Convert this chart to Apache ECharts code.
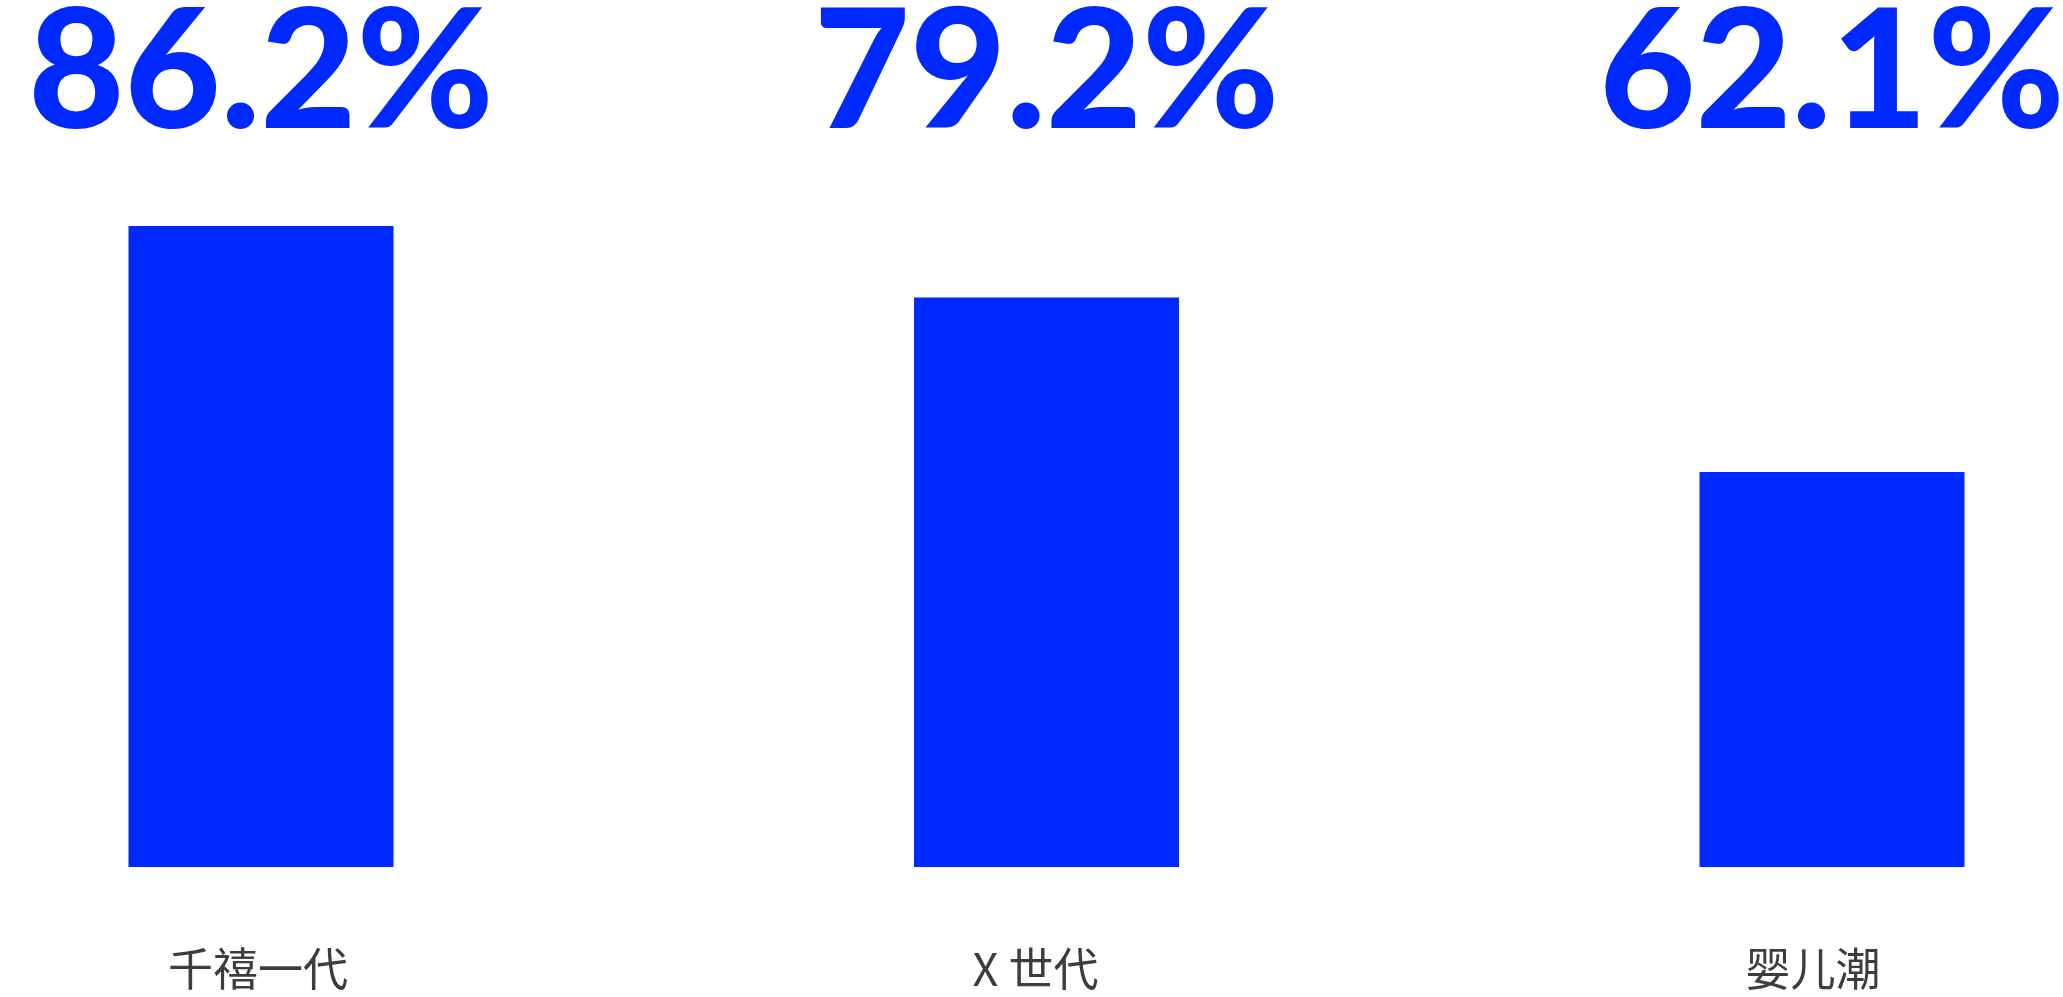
<!DOCTYPE html>
<html>
<head>
<meta charset="utf-8">
<script src="https://cdn.jsdelivr.net/npm/echarts@6/dist/echarts.min.js"></script>
<style>
html,body{margin:0;padding:0;background:#fff;}
#chart{width:2063px;height:997px;}
</style>
</head>
<body>
<div id="chart"></div>
<script>
const categories = ['千禧一代', 'X 世代', '婴儿潮'];
const values = [86.2, 79.2, 62.1];
const valueLabels = ['86.2%', '79.2%', '62.1%'];

const chart = echarts.init(document.getElementById('chart'));
const blue = '#0029ff';
chart.setOption({
  animation: false,
  backgroundColor: '#ffffff',
  grid: [
    { left: 261, right: 231, top: 226, bottom: 130, outerBoundsMode: 'none', containLabel: false },
    { left: 258, right: 250, top: 226, bottom: 130, outerBoundsMode: 'none', containLabel: false }
  ],
  xAxis: [
    {
      gridIndex: 0,
      type: 'category',
      data: categories,
      boundaryGap: false,
      position: 'top',
      axisLine: { show: false },
      axisTick: { show: false },
      axisLabel: {
        margin: 69,
        fontSize: 166,
        fontWeight: 900,
        color: blue,
        fontFamily: 'Lato, sans-serif',
        formatter: (v, i) => valueLabels[i]
      }
    },
    {
      gridIndex: 1,
      type: 'category',
      data: categories,
      boundaryGap: false,
      position: 'bottom',
      axisLine: { show: false },
      axisTick: { show: false },
      axisLabel: {
        margin: 79,
        fontSize: 45,
        color: '#3d3d3d',
        fontFamily: '"Noto Sans CJK SC", sans-serif'
      }
    }
  ],
  yAxis: [
    { gridIndex: 0, type: 'value', min: 23.4, max: 86.2, show: false, splitLine: { show: false } },
    { gridIndex: 1, type: 'value', min: 23.4, max: 86.2, show: false, splitLine: { show: false } }
  ],
  series: [{
    type: 'bar',
    xAxisIndex: 0,
    yAxisIndex: 0,
    data: values,
    barWidth: 265,
    itemStyle: { color: blue },
    silent: true
  }]
});
</script>
</body>
</html>
